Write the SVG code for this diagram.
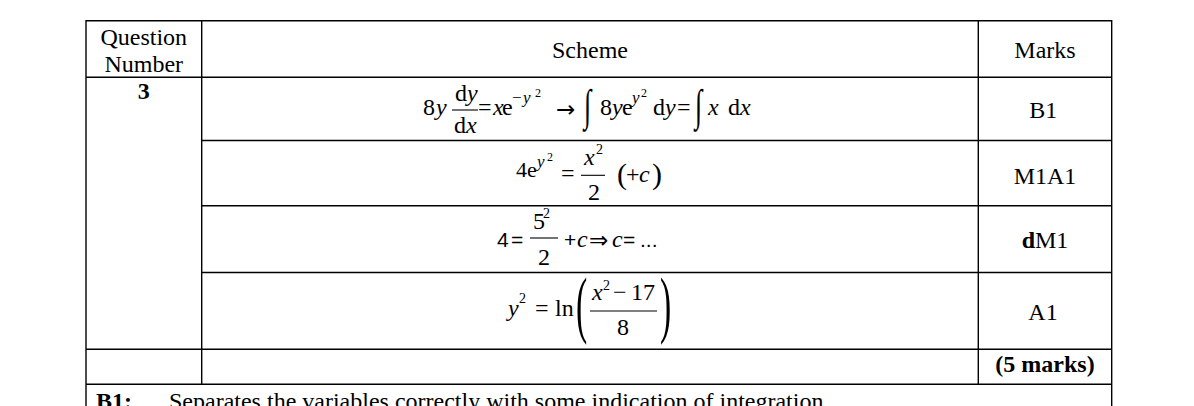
<svg xmlns="http://www.w3.org/2000/svg" width="1194" height="406" viewBox="0 0 1194 406">
<style>
text{font-family:"Liberation Serif","Times New Roman",serif;font-size:24px;fill:#000}
.c{text-anchor:middle}
.b{font-weight:bold}
.i{font-style:italic}
.s{font-family:"Liberation Sans",Arial,sans-serif;font-size:21px}
.ar{font-family:"DejaVu Sans",sans-serif;font-size:23px}
.sup{font-size:17px}
.sup2{font-size:12px}
.ln{stroke:#000;stroke-width:1.4;fill:none}
.bar{stroke:#000;stroke-width:1.1}
</style>
<rect width="1194" height="406" fill="#fff"/>
<g id="grid" class="ln">
<line x1="86" y1="20.7" x2="1111.7" y2="20.7"/>
<line x1="86" y1="77.3" x2="1111.7" y2="77.3"/>
<line x1="201.7" y1="140.5" x2="1111.7" y2="140.5"/>
<line x1="201.7" y1="205.7" x2="1111.7" y2="205.7"/>
<line x1="201.7" y1="272.5" x2="1111.7" y2="272.5"/>
<line x1="86" y1="349.3" x2="1111.7" y2="349.3"/>
<line x1="86" y1="384.3" x2="1111.7" y2="384.3"/>
<line x1="86" y1="20" x2="86" y2="406"/>
<line x1="1111.7" y1="20" x2="1111.7" y2="406"/>
<line x1="201.7" y1="20" x2="201.7" y2="384.3"/>
<line x1="978.3" y1="20" x2="978.3" y2="384.3"/>
</g>
<g id="header">
<text class="c" x="143.8" y="45">Question</text>
<text class="c" x="143.8" y="72">Number</text>
<text class="c" x="590" y="57.5">Scheme</text>
<text class="c" x="1045" y="58.3">Marks</text>
</g>
<g id="qnum"><text class="c b" x="143.8" y="99">3</text></g>
<g id="row1">
<text x="423" y="115">8</text>
<text class="i" x="436" y="115">y</text>
<text x="455" y="101">d<tspan class="i">y</tspan></text>
<line class="bar" x1="452" y1="110" x2="478" y2="110"/>
<text x="454" y="133">d<tspan class="i">x</tspan></text>
<text x="478" y="115">=</text>
<text class="i" x="493" y="115">x</text>
<text x="502" y="115">e</text>
<text class="sup" x="512" y="103">−</text>
<text class="sup i" x="523" y="103">y</text>
<text class="sup2" x="535" y="97">2</text>
<text class="ar" x="556" y="117">→</text>
<text transform="translate(584,120) scale(0.6,1)" style="font-size:44px">∫</text>
<text x="600" y="115">8</text>
<text class="i" x="612" y="115">y</text>
<text x="622" y="115">e</text>
<text class="sup i" x="632" y="103">y</text>
<text class="sup2" x="641" y="97">2</text>
<text x="653" y="115">d<tspan class="i">y</tspan></text>
<text x="677" y="115">=</text>
<text transform="translate(695,120) scale(0.6,1)" style="font-size:44px">∫</text>
<text class="i" x="708" y="115">x</text>
<text x="728" y="115">d<tspan class="i">x</tspan></text>
<text class="c" x="1043.3" y="118.3">B1</text>
</g>
<g id="row2">
<text x="516" y="177" style="font-size:22px">4e</text>
<text class="sup i" x="537" y="167">y</text>
<text class="sup2" x="547" y="161">2</text>
<text x="561" y="181">=</text>
<text class="i" x="584" y="165">x</text>
<text style="font-size:14px" x="596" y="154">2</text>
<line class="bar" x1="581" y1="175.3" x2="605" y2="175.3"/>
<text x="588" y="200">2</text>
<text x="617" y="184" style="font-size:30px">(</text>
<text x="626" y="182">+</text>
<text class="i" x="639" y="182">c</text>
<text x="652" y="184" style="font-size:30px">)</text>
<text class="c" x="1045" y="184">M1A1</text>
</g>
<g id="row3">
<text class="s" x="497" y="247">4</text>
<text class="s" x="511" y="247">=</text>
<text x="533" y="229">5</text>
<text style="font-size:14px" x="543" y="218">2</text>
<line class="bar" x1="530" y1="238" x2="558" y2="238"/>
<text x="538" y="265">2</text>
<text class="s" x="564" y="247">+</text>
<text class="i" x="577" y="247">c</text>
<text class="ar" x="589" y="248">⇒</text>
<text class="i" x="612" y="247">c</text>
<text class="s" x="623" y="247">=</text>
<text class="s" x="640" y="247">...</text>
<text class="c" x="1045" y="248"><tspan class="b">d</tspan>M1</text>
</g>
<g id="row4">
<text class="i" x="508" y="316">y</text>
<text style="font-size:14px" x="519" y="303">2</text>
<text x="535" y="316">=</text>
<text x="555" y="316">ln</text>
<text transform="translate(576,329) scale(0.45,1)" style="font-size:75px">(</text>
<text class="i" x="592" y="300">x</text>
<text style="font-size:14px" x="603" y="290">2</text>
<text x="613" y="300">−</text>
<text x="631" y="300">17</text>
<line class="bar" x1="590" y1="311" x2="657" y2="311"/>
<text x="617" y="335">8</text>
<text transform="translate(660,329) scale(0.45,1)" style="font-size:75px">)</text>
<text class="c" x="1043" y="320">A1</text>
</g>
<g id="total"><text class="c b" x="1045" y="372">(5 marks)</text></g>
<g id="note">
<text class="b" x="96" y="409">B1:</text>
<text x="169" y="409">Separates the variables correctly with some indication of integration</text>
</g>
</svg>
